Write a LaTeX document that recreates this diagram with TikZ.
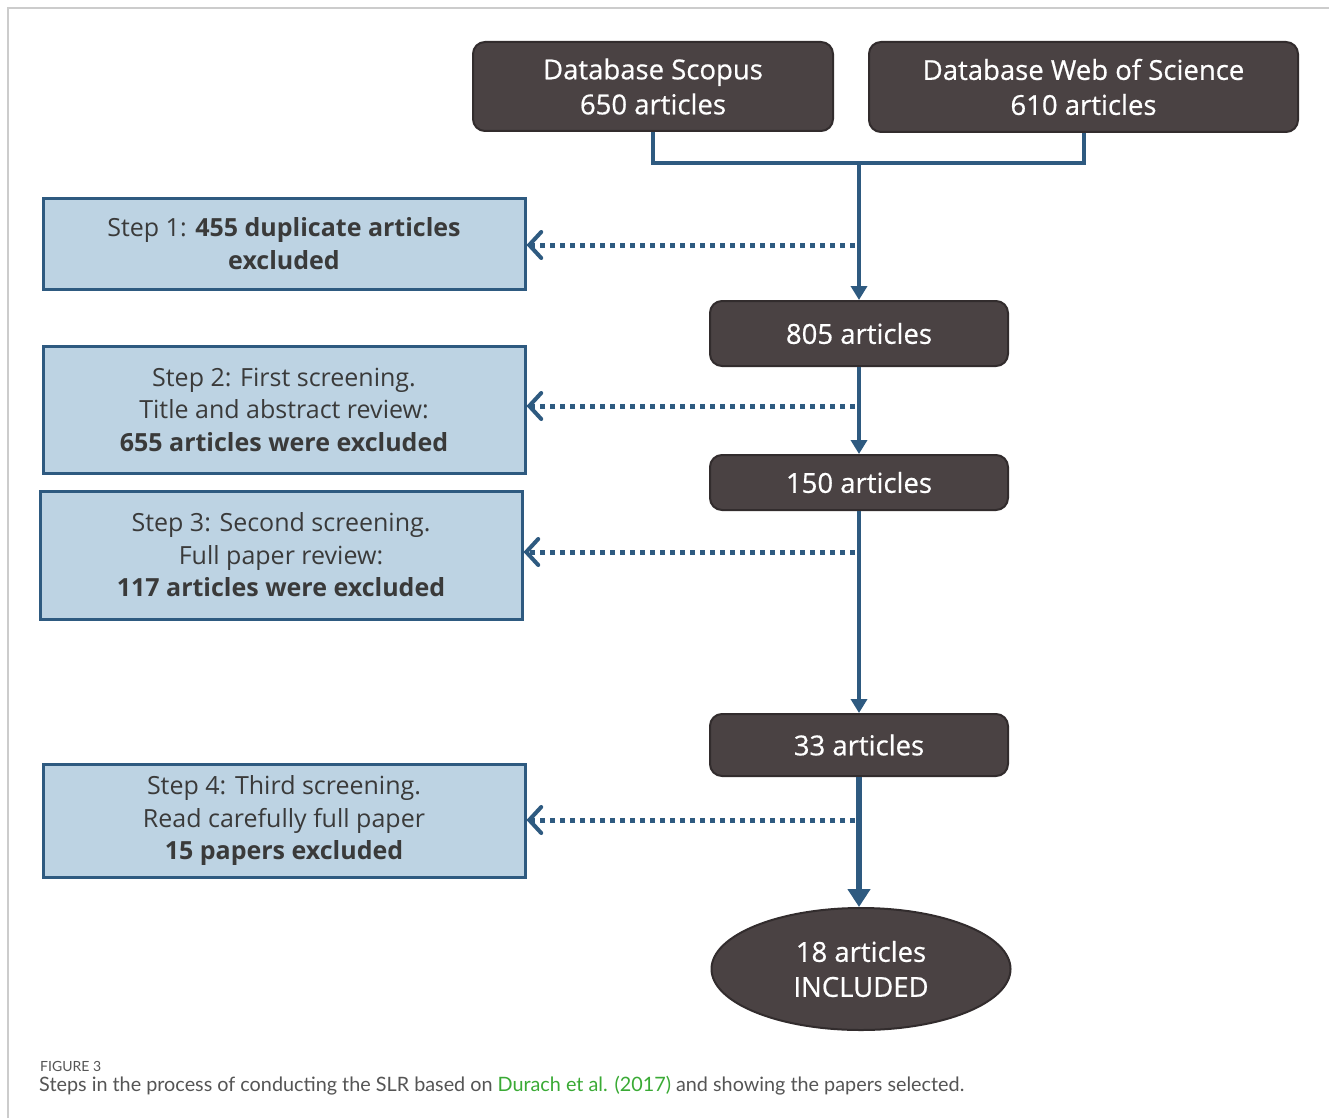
\documentclass[tikz,border=0pt]{standalone}
\usepackage{fontspec}
\setmainfont{Open Sans}[FakeBold=0]
\newfontfamily\boxfont{Open Sans}[FakeBold=0.6]
\newfontfamily\capfont{Lato}
\usetikzlibrary{arrows.meta,shapes.geometric}
\definecolor{darkbox}{HTML}{4A4243}
\definecolor{darkedge}{HTML}{322C2D}
\definecolor{lightbox}{HTML}{BDD3E3}
\definecolor{steel}{HTML}{2E5A80}
\definecolor{boxtext}{HTML}{3A3A3A}
\definecolor{captext}{HTML}{555555}
\definecolor{capgreen}{HTML}{3AAA35}
\definecolor{framegray}{HTML}{CCCCCC}
\tikzset{
  darknode/.style={draw=darkedge, line width=2pt, fill=darkbox, rounded corners=12pt,
    text=white, font=\boxfont\fontsize{27.5}{35}\selectfont, align=center, inner sep=0pt},
  stepbox/.style={draw=steel, line width=3pt, fill=lightbox, text=boxtext,
    font=\fontsize{25}{32.5}\selectfont, align=center, inner sep=0pt},
  flow/.style={draw=steel, line width=4pt},
  flowarrow/.style={flow, -{Triangle[width=16pt,length=14pt]}},
  dotarrow/.style={draw=steel, line width=5pt, dash pattern=on 5pt off 5pt,
    -{Straight Barb[length=12pt,width=26pt,line width=4pt,line cap=round]}},
}
\begin{document}
\begin{tikzpicture}[x=1pt,y=-1pt]
\useasboundingbox (0,0) rectangle (1329,1118);
\fill[white] (0,0) rectangle (1329,1118);
\draw[framegray, line width=1.5pt] (8,1118) -- (8,8) -- (1329,8);

% dark boxes
\node[darknode, minimum width=360pt, minimum height=89pt] (sc) at (653,86.5) {Database Scopus\\650 articles};
\node[darknode, minimum width=429pt, minimum height=90pt] (wos) at (1083.5,87) {Database Web of Science\\610 articles};
\node[darknode, minimum width=298pt, minimum height=65pt] (a805) at (859,333.5) {805 articles};
\node[darknode, minimum width=298pt, minimum height=55pt] (a150) at (859,482.5) {150 articles};
\node[darknode, minimum width=298pt, minimum height=62pt] (a33) at (859,745) {33 articles};
\node[darknode, ellipse, minimum width=299pt, minimum height=122pt] (inc) at (861,969) {18 articles\\INCLUDED};

% step boxes
\node[stepbox, minimum width=482pt, minimum height=91pt] (s1) at (284,243.5) {Step 1: \textbf{455 duplicate articles}\\\textbf{excluded}};
\node[stepbox, minimum width=482pt, minimum height=127pt] (s2) at (284,409.5) {Step 2: First screening.\\Title and abstract review:\\\textbf{655 articles were excluded}};
\node[stepbox, minimum width=482pt, minimum height=128pt] (s3) at (281,555) {Step 3: Second screening.\\Full paper review:\\\textbf{117 articles were excluded}};
\node[stepbox, minimum width=482pt, minimum height=113pt] (s4) at (284,820.5) {Step 4: Third screening.\\Read carefully full paper\\\textbf{15 papers excluded}};

% connectors
\coordinate (j) at (859,163);
\draw[flow] (sc.south) |- (j) -| (wos.south);
\draw[flowarrow] (j) -- (a805.north);
\draw[flowarrow] (a805.south) -- (a150.north);
\draw[flowarrow] (a150.south) -- (a33.north);
\draw[flow, line width=6pt, -{Triangle[width=22pt,length=18pt]}] (a33.south) -- (a33.south |- inc.north);

\coordinate (d1) at (855,245);
\coordinate (d2) at (855,406);
\coordinate (d3) at (855,552);
\coordinate (d4) at (855,820);
\draw[dotarrow] (d1) -- (d1 -| s1.east);
\draw[dotarrow] (d2) -- (d2 -| s2.east);
\draw[dotarrow] (d3) -- (d3 -| s3.east);
\draw[dotarrow] (d4) -- (d4 -| s4.east);

% caption
\node[anchor=base west, inner sep=0pt, text=captext, font=\capfont\fontsize{14}{16}\selectfont] (figlabel) at (40,1071) {FIGURE 3};
\node[anchor=base west, inner sep=0pt, text=captext, font=\capfont\fontsize{19.8}{22}\selectfont] (caption) at (39,1091) {Steps in the process of conducting the SLR based on \textcolor{capgreen}{Durach et al. (2017)} and showing the papers selected.};
\end{tikzpicture}
\end{document}
